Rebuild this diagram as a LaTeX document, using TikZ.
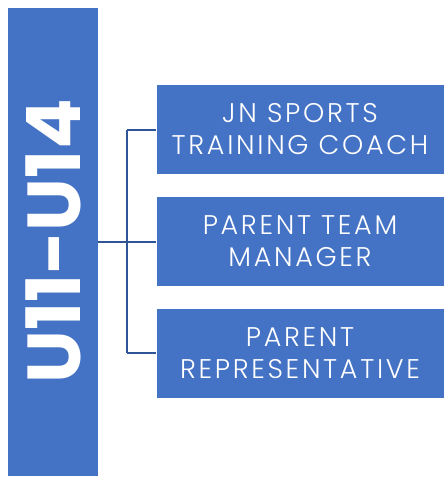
\documentclass[tikz,border=0pt]{standalone}
\usepackage{fontspec}
\setmainfont{Poppins}
\newfontfamily\lightfont{Poppins Light}[LetterSpace=10]
\usetikzlibrary{positioning}
\definecolor{boxblue}{HTML}{4472C4}
\definecolor{lineblue}{HTML}{2F5597}

\begin{document}
\begin{tikzpicture}
  [x=1pt,y=-1pt,every node/.style={fill=boxblue,text=white,inner sep=0pt},
   role/.style={minimum width=287pt,minimum height=89pt,align=center,font=\lightfont\fontsize{27}{32}\selectfont},
   link/.style={draw=lineblue,line width=2pt}]
  \useasboundingbox (0,0) rectangle (445,477);
  \node[minimum width=90pt,minimum height=468pt] (age) at (53,241.5) {};
  \node[rotate=90,font=\fontsize{75}{75}\selectfont\bfseries,fill=none] (agelbl) at (age.center) {U11-U14};
  \node[role] (coach) at (300,129.5) {JN SPORTS\\TRAINING COACH};
  \node[role] (manager) at (300,241.5) {PARENT TEAM\\MANAGER};
  \node[role] (rep) at (300,353) {PARENT\\REPRESENTATIVE};

  \coordinate (joint) at (127,241.5);
  \draw[link] (age.east |- joint) -- (joint);
  \draw[link] (joint |- coach.west) -- (joint |- rep.west);
  \foreach \to in {coach,manager,rep}
    \draw[link] (joint |- \to.west) -- (\to.west);

\end{tikzpicture}
\end{document}
